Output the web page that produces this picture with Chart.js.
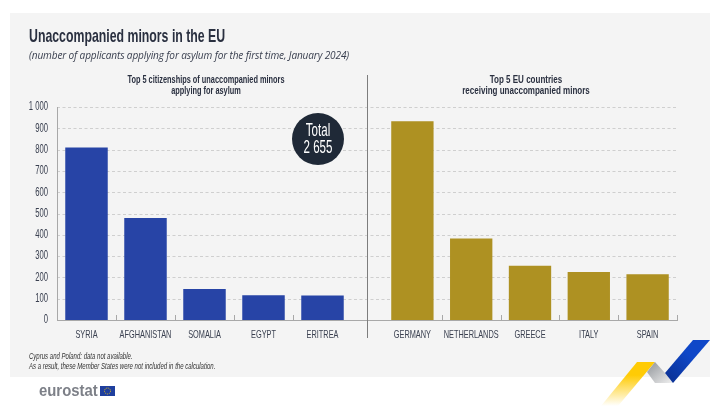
<!DOCTYPE html>
<html><head><meta charset="utf-8">
<style>
html,body{margin:0;padding:0;background:#fff;width:725px;height:411px;overflow:hidden}
#panel{position:absolute;left:10px;top:13px;width:700px;height:364px;background:#f4f4f4}
canvas{position:absolute;left:0;top:0}
.t{position:absolute;white-space:nowrap;color:#2a3040;font-family:"Liberation Sans",sans-serif;transform-origin:0 0}
.c{text-align:center}
</style></head><body>
<div id="panel"></div>
<canvas id="left" width="725" height="411"></canvas>
<canvas id="right" width="725" height="411"></canvas>
<div class="t" style="left:29px;top:25px;font-size:18.5px;font-weight:bold;transform:scaleX(.665)">Unaccompanied minors in the EU</div>
<div class="t" style="left:29px;top:47px;font-size:11.2px;font-style:italic;font-family:'Open Sans',sans-serif;letter-spacing:-.15px;color:#3a4050;transform:scaleX(.9)">(number of applicants applying for asylum for the first time, January 2024)</div>
<div class="t c" style="left:206px;top:74px;font-size:11px;line-height:11px;font-weight:bold;transform:translateX(-50%) scaleX(.67);transform-origin:50% 0">Top 5 citizenships of unaccompanied minors<br>applying for asylum</div>
<div class="t c" style="left:526px;top:74px;font-size:11px;line-height:11px;font-weight:bold;transform:translateX(-50%) scaleX(.73);transform-origin:50% 0">Top 5 EU countries<br>receiving unaccompanied minors</div>
<div style="position:absolute;left:367px;top:75px;width:1px;height:263px;background:#7d7d7d"></div>
<div style="position:absolute;left:291.5px;top:113px;width:52px;height:52px;border-radius:50%;background:#1f2937"></div>
<div class="t c" style="left:317.5px;top:122px;font-size:17.5px;line-height:16.5px;color:#fff;transform:translateX(-50%) scaleX(.66);transform-origin:50% 0">Total<br>2 655</div>
<div class="t" style="left:29px;top:352px;font-size:9px;line-height:9.5px;font-style:italic;color:#333;transform:scaleX(.67)">Cyprus and Poland: data not available.<br>As a result, these Member States were not included in the calculation.</div>
<div class="t" style="left:38.5px;top:382px;font-size:16px;line-height:18px;font-weight:bold;color:#7d8088;transform:scaleX(.93)">eurostat</div>
<svg style="position:absolute;left:0;top:0" width="725" height="411">
<defs>
<linearGradient id="y" x1="0" y1="1" x2="0" y2="0"><stop offset="0" stop-color="#fff"/><stop offset=".7" stop-color="#ffcb05"/></linearGradient>
<linearGradient id="g" x1="0" y1="0" x2="1" y2="1"><stop offset="0" stop-color="#8f9398"/><stop offset="1" stop-color="#f0f0f0"/></linearGradient>
<linearGradient id="b" x1="0" y1="1" x2="1" y2="0"><stop offset="0" stop-color="#0b2f8f"/><stop offset=".6" stop-color="#0f47c8"/></linearGradient>
</defs>
<polygon points="637,362 655,362 618,406 601,406" fill="url(#y)"/>
<polygon points="655,362 665,373 673,383 655,383 647,372" fill="url(#g)"/>
<polygon points="693,340 710,340 673,383 665,373" fill="url(#b)"/>
<rect x="100" y="386" width="15" height="10" fill="#1f3f9e"/>
<circle cx="107.5" cy="391" r="3" fill="none" stroke="#e9c318" stroke-width="1" stroke-dasharray="1 1"/>
</svg>
<script src="https://cdn.jsdelivr.net/npm/chart.js@4"></script>
<script>
const citizenships = ["SYRIA","AFGHANISTAN","SOMALIA","EGYPT","ERITREA"];
const citizenshipValues = [810,479,145,116,115];
const countries = ["GERMANY","NETHERLANDS","GREECE","ITALY","SPAIN"];
const countryValues = [933,383,255,225,215];
const yTicks = [0,100,200,300,400,500,600,700,800,900,1000];

Chart.defaults.animation = false;
Chart.defaults.responsive = false;
Chart.defaults.devicePixelRatio = 1;
const FONT = "'Liberation Sans',sans-serif";
const fmt = v => String(v).replace(/\B(?=(\d{3})+$)/g," ");

// the reference uses a condensed face: squeeze the tick labels horizontally
function condense(ctx, k){
  const orig = ctx.fillText.bind(ctx);
  ctx.fillText = (t,x,y,m) => {
    ctx.save(); ctx.translate(x,y); ctx.scale(k,1); orig(t,0,0,m); ctx.restore();
  };
}

const decorate = (full) => ({
  id:"decor",
  beforeDatasetsDraw(chart){
    const {ctx,scales:{x,y},chartArea:a} = chart;
    ctx.save();
    if(full){
      ctx.strokeStyle="#cfcfcf"; ctx.lineWidth=1; ctx.setLineDash([3,2.5]);
      yTicks.slice(1).forEach(v=>{
        const p=Math.round(y.getPixelForValue(v))+.5;
        ctx.beginPath(); ctx.moveTo(a.left,p); ctx.lineTo(678,p); ctx.stroke();
      });
      ctx.setLineDash([]);
      ctx.strokeStyle="#a8a8a8";
      ctx.beginPath(); ctx.moveTo(a.left+.5,a.top); ctx.lineTo(a.left+.5,a.bottom); ctx.stroke();
      const b=Math.round(y.getPixelForValue(0))+.5;
      ctx.beginPath(); ctx.moveTo(a.left,b); ctx.lineTo(678,b); ctx.stroke();
    }
    ctx.strokeStyle="#a8a8a8"; ctx.lineWidth=1;
    const step=x.getPixelForTick(1)-x.getPixelForTick(0);
    const n=full?4:5;
    for(let i=0;i<n;i++){
      const p=Math.round(x.getPixelForTick(i)+step/2)+.5;
      ctx.beginPath(); ctx.moveTo(p,a.bottom); ctx.lineTo(p,a.bottom-5); ctx.stroke();
    }
    ctx.restore();
  }
});

function panel(id,labels,values,color,full,padL,padR){
  const el=document.getElementById(id);
  condense(el.getContext("2d"),.64);
  new Chart(el,{
    type:"bar",
    data:{labels,datasets:[{data:values,backgroundColor:color,borderWidth:0,barPercentage:.72,categoryPercentage:1}]},
    plugins:[decorate(full)],
    options:{
      maintainAspectRatio:false,
      layout:{padding:{left:padL,right:padR,top:107,bottom:61}},
      plugins:{legend:{display:false},tooltip:{enabled:false}},
      scales:{
        x:{grid:{display:false,drawTicks:false,tickLength:0},border:{display:false},
           afterFit(s){s.height=30},
           ticks:{color:"#3a4050",font:{family:FONT,size:11.5},padding:8,maxRotation:0,autoSkip:false}},
        y:{display:full,min:0,max:1000,
           afterBuildTicks(s){s.ticks=yTicks.map(value=>({value}))},
           afterFit(s){s.width=full?57:0},
           grid:{display:false,drawTicks:false,tickLength:0},border:{display:false},
           ticks:{color:"#3a4050",font:{family:FONT,size:12},padding:9,callback:v=>fmt(v)}}
      }
    }
  });
}
panel("left",citizenships,citizenshipValues,"#2744a6",true,0,373);
panel("right",countries,countryValues,"#ae9122",false,383,48);
</script>
</body></html>
